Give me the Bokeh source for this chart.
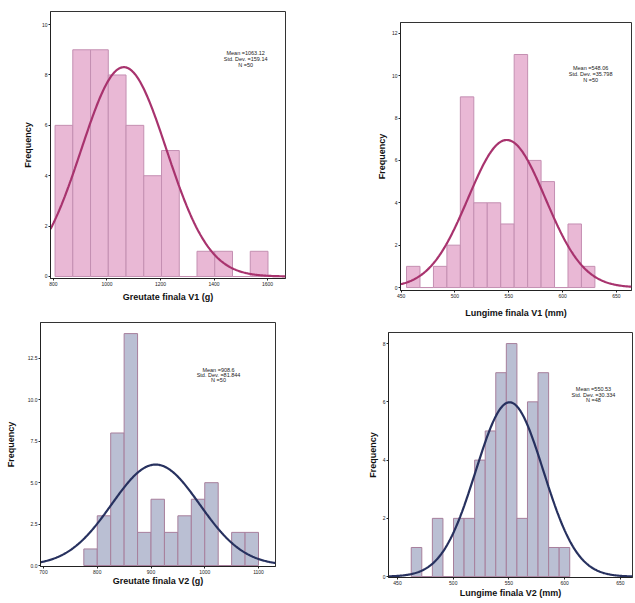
import numpy as np
from bokeh.plotting import figure
from bokeh.models import Range1d, FixedTicker, Label
from bokeh.layouts import row, column
from bokeh.embed import file_html
from bokeh.resources import INLINE

# ---------------- data ----------------
# Panel 1: Greutate finala V1 (g)
p1_bin_start = 806
p1_bin_width = 66.3
p1_counts = [6, 9, 9, 8, 6, 4, 5, 0, 1, 1, 0, 1]
p1_mean, p1_sd, p1_n = 1063.12, 159.14, 50
p1_xticks = [800, 1000, 1200, 1400, 1600]
p1_yticks = [0, 2, 4, 6, 8, 10]
p1_stats = ["Mean =1063.12", "Std. Dev. =159.14", "N =50"]

# Panel 2: Lungime finala V1 (mm)
p2_bin_start = 455
p2_bin_width = 12.5
p2_counts = [1, 0, 1, 2, 9, 4, 4, 3, 11, 6, 5, 0, 3, 1]
p2_mean, p2_sd, p2_n = 548.06, 35.798, 50
p2_xticks = [450, 500, 550, 600, 650]
p2_yticks = [0, 2, 4, 6, 8, 10, 12]
p2_stats = ["Mean =548.06", "Std. Dev. =35.798", "N =50"]

# Panel 3: Greutate finala V2 (g)
p3_bin_start = 775
p3_bin_width = 25
p3_counts = [1, 3, 8, 14, 2, 4, 2, 3, 4, 5, 0, 2, 2]
p3_mean, p3_sd, p3_n = 908.6, 81.844, 50
p3_xticks = [700, 800, 900, 1000, 1100]
p3_yticks = [0, 2.5, 5, 7.5, 10, 12.5]
p3_stats = ["Mean =908.6", "Std. Dev. =81.844", "N =50"]

# Panel 4: Lungime finala V2 (mm)
p4_bin_start = 462.3
p4_bin_width = 9.48
p4_counts = [1, 0, 2, 0, 2, 2, 4, 5, 7, 8, 2, 6, 7, 1, 1]
p4_mean, p4_sd, p4_n = 550.53, 30.334, 48
p4_xticks = [450, 500, 550, 600, 650]
p4_yticks = [0, 2, 4, 6, 8]
p4_stats = ["Mean =550.53", "Std. Dev. =30.334", "N =48"]

PINK_FILL, PINK_EDGE, PINK_LINE = "#e9b8d5", "#c48fb2", "#a8336e"
BLUE_FILL, BLUE_EDGE, BLUE_LINE = "#babfd3", "#a77f9c", "#27315f"
FONT = "Liberation Sans"
BG = "#ffffff"


def panel(width, height, borders, xr, yr, bin_start, bin_width, counts,
          mean, sd, n, xticks, yticks, xlabel, stats, stats_pos,
          fill, edge, line, yfmt=None, ylab_standoff=5, xlab_standoff=3):
    p = figure(width=width, height=height, output_backend="svg",
               toolbar_location=None,
               x_range=Range1d(*xr), y_range=Range1d(*yr),
               min_border_left=borders[0], min_border_right=borders[1],
               min_border_top=borders[2], min_border_bottom=borders[3],
               background_fill_color=BG, border_fill_color=BG)
    p.grid.visible = False
    p.outline_line_color = "#333333"
    p.outline_line_width = 1

    left = [bin_start + i * bin_width for i in range(len(counts))]
    right = [l + bin_width for l in left]
    p.quad(left=left, right=right, top=counts, bottom=0,
           fill_color=fill, line_color=edge, line_width=1)

    xs = np.linspace(xr[0], xr[1], 300)
    ys = n * bin_width / (sd * np.sqrt(2 * np.pi)) * np.exp(-0.5 * ((xs - mean) / sd) ** 2)
    p.line(xs, ys, line_color=line, line_width=2.2)

    for ax in (p.xaxis[0], p.yaxis[0]):
        ax.axis_line_color = "#222222"
        ax.major_tick_line_color = "#222222"
        ax.minor_tick_line_color = None
        ax.major_tick_in = 0
        ax.major_tick_out = 2
        ax.major_label_standoff = 1
        ax.major_label_text_font = FONT
        ax.major_label_text_font_size = "5px"
        ax.major_label_text_color = "#222222"
        ax.axis_label_text_font = FONT
        ax.axis_label_text_font_size = "9px"
        ax.axis_label_text_font_style = "bold"
        ax.axis_label_text_color = "#111111"

    p.xaxis.ticker = FixedTicker(ticks=xticks)
    p.yaxis.ticker = FixedTicker(ticks=yticks)
    if yfmt is not None:
        p.yaxis.major_label_overrides = {t: yfmt(t) for t in yticks}
    p.xaxis.axis_label = xlabel
    p.yaxis.axis_label = "Frequency"
    p.yaxis.axis_label_standoff = ylab_standoff
    p.xaxis.axis_label_standoff = xlab_standoff

    sx, sy, dy = stats_pos
    for i, s in enumerate(stats):
        p.add_layout(Label(x=sx, y=sy - i * dy, text=s, text_font=FONT,
                           text_font_size="5.5px", text_align="center",
                           text_baseline="middle", text_color="#222222"))
    return p


f1 = panel(320, 310, (50, 35, 11, 32), (789, 1667), (-0.08, 10.52),
           p1_bin_start, p1_bin_width, p1_counts, p1_mean, p1_sd, p1_n,
           p1_xticks, p1_yticks, "Greutate finala V1 (g)", p1_stats,
           (1518, 8.89, 0.24), PINK_FILL, PINK_EDGE, PINK_LINE,
           ylab_standoff=6, xlab_standoff=3)

f2 = panel(315, 320, (80, 4, 22, 27), (449.4, 664), (-0.14, 12.51),
           p2_bin_start, p2_bin_width, p2_counts, p2_mean, p2_sd, p2_n,
           p2_xticks, p2_yticks, "Lungime finala V1 (mm)", p2_stats,
           (626, 10.36, 0.28), PINK_FILL, PINK_EDGE, PINK_LINE,
           ylab_standoff=2, xlab_standoff=7)

f3 = panel(320, 293, (40, 45, 12, 37), (694.4, 1131.6), (-0.06, 14.67),
           p3_bin_start, p3_bin_width, p3_counts, p3_mean, p3_sd, p3_n,
           p3_xticks, p3_yticks, "Greutate finala V2 (g)", p3_stats,
           (1025.6, 11.78, 0.3), BLUE_FILL, BLUE_EDGE, BLUE_LINE,
           yfmt=lambda t: f"{t:.1f}", ylab_standoff=9, xlab_standoff=-1)

f4 = panel(315, 283, (68, 3, 12, 26), (441.9, 660.8), (-0.03, 8.38),
           p4_bin_start, p4_bin_width, p4_counts, p4_mean, p4_sd, p4_n,
           p4_xticks, p4_yticks, "Lungime finala V2 (mm)", p4_stats,
           (625.8, 6.43, 0.19), BLUE_FILL, BLUE_EDGE, BLUE_LINE,
           ylab_standoff=2, xlab_standoff=0)

# wrap each figure in its own row so that frames are not aligned across panels
layout = row(column(row(f1), row(f3)), column(row(f2), row(f4)))
open("out.html", "w").write(file_html(layout, INLINE))
